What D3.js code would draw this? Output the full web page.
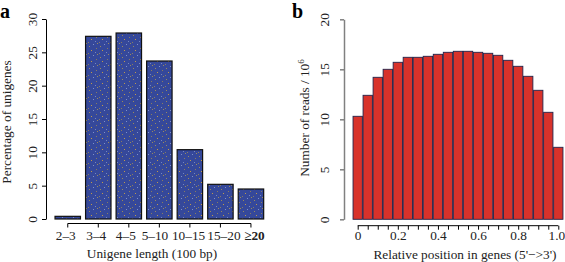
<!DOCTYPE html>
<html>
<head>
<meta charset="utf-8">
<script src="https://cdn.jsdelivr.net/npm/d3@7"></script>
<style>
  body { margin: 0; background: #fff; }
  svg { display: block; font-family: "Liberation Serif", "DejaVu Serif", serif; }
</style>
</head>
<body>
<svg id="chart" width="565" height="262"></svg>
<script>
// Panel a: unigene length distribution
const lengthCats = ["2–3", "3–4", "4–5", "5–10", "10–15", "15–20", "≥20"];
const lengthPct = [0.4, 27.4, 27.9, 23.7, 10.4, 5.2, 4.5];
const pctTicks = [0, 5, 10, 15, 20, 25, 30];

// Panel b: read coverage along gene body
const positions = [0, 0.05, 0.1, 0.15, 0.2, 0.25, 0.3, 0.35, 0.4, 0.45, 0.5,
                   0.55, 0.6, 0.65, 0.7, 0.75, 0.8, 0.85, 0.9, 0.95, 1.0];
const reads = [10.3, 12.4, 14.2, 15.0, 15.7, 16.2, 16.2, 16.3, 16.5, 16.7, 16.8,
               16.8, 16.7, 16.6, 16.4, 15.9, 15.3, 14.3, 12.9, 10.7, 7.2];
const readTicks = [0, 5, 10, 15, 20];
const posLabels = [0, 0.2, 0.4, 0.6, 0.8, 1.0];

const fs = 13.3;
// small horizontal nudges so the category labels don't collide (as in the original)
const labelNudge = [-2, -2, -3, -4.4, -1.3, 3.5, 3.5];

const svg = d3.select("#chart");

// speckled texture for the blue bars
const defs = svg.append("defs");
const pat = defs.append("pattern")
    .attr("id", "speckle")
    .attr("patternUnits", "userSpaceOnUse")
    .attr("width", 11).attr("height", 11);
pat.append("rect").attr("width", 11).attr("height", 11).attr("fill", "#35489a");
const dots = [[1, 2, "#9a8a5c"], [5, 0, "#7f90c8"], [8, 4, "#8a7d60"],
              [3, 6, "#c09a4a"], [7, 8, "#7486c0"], [0, 9, "#8a7d60"], [9, 10, "#9a8a5c"]];
dots.forEach(d => pat.append("rect")
    .attr("x", d[0]).attr("y", d[1]).attr("width", 1).attr("height", 1).attr("fill", d[2]));

// ---------- panel a ----------
const xA = d3.scaleBand()
    .domain(lengthCats)
    .range([52.5, 266.2])
    .paddingInner(0.167)
    .paddingOuter(0.083);

const yA = d3.scaleLinear().domain([0, 30]).range([219, 19]);

svg.append("g").selectAll("rect")
    .data(lengthCats)
    .enter()
    .append("rect")
    .attr("x", d => xA(d))
    .attr("y", (d, i) => yA(lengthPct[i]))
    .attr("width", xA.bandwidth())
    .attr("height", (d, i) => yA(0) - yA(lengthPct[i]))
    .attr("fill", "url(#speckle)")
    .attr("stroke", "#111")
    .attr("stroke-width", 1.2);

// y axis a
const yAxisA = svg.append("g")
    .attr("transform", "translate(46,0)")
    .call(d3.axisLeft(yA).tickValues(pctTicks).tickSize(4).tickSizeOuter(0));
yAxisA.selectAll("text")
    .attr("transform", "rotate(-90)")
    .attr("x", 0).attr("y", -9.5).attr("dy", 0)
    .attr("text-anchor", "middle");

// x axis a
const xAxisA = svg.append("g")
    .attr("transform", "translate(0,223.5)")
    .call(d3.axisBottom(xA).tickSize(4).tickSizeOuter(0));
xAxisA.select(".domain").remove();
xAxisA.append("line")
    .attr("x1", xA(lengthCats[0]) + xA.bandwidth() / 2)
    .attr("x2", xA(lengthCats[lengthCats.length - 1]) + xA.bandwidth() / 2)
    .attr("stroke", "#000");
xAxisA.selectAll("text").attr("y", 7).attr("dy", "0.71em")
    .attr("x", (d, i) => labelNudge[i])
    .attr("font-weight", d => d === "≥20" ? "bold" : null);

[yAxisA, xAxisA].forEach(g => {
    g.attr("font-family", null).attr("font-size", fs);
    g.selectAll("text").attr("fill", "#222");
    g.selectAll("line").attr("stroke", "#000");
});

svg.append("text")
    .attr("x", 152).attr("y", 258)
    .attr("text-anchor", "middle").attr("font-size", fs).attr("fill", "#222")
    .text("Unigene length (100 bp)");

svg.append("text")
    .attr("transform", "translate(11,122) rotate(-90)")
    .attr("text-anchor", "middle").attr("font-size", fs).attr("fill", "#222")
    .text("Percentage of unigenes");

svg.append("text")
    .attr("x", 0).attr("y", 18)
    .attr("font-size", 20).attr("font-weight", "bold")
    .text("a");

// ---------- panel b ----------
const xB = d3.scaleLinear().domain([0, 1]).range([357.7, 558.3]);
const yB = d3.scaleLinear().domain([0, 20]).range([219.3, 19.3]);
const bw = (xB(0.05) - xB(0)) * 0.93;

svg.append("g").selectAll("rect")
    .data(positions)
    .enter()
    .append("rect")
    .attr("x", d => xB(d) - bw / 2)
    .attr("y", (d, i) => yB(reads[i]))
    .attr("width", bw)
    .attr("height", (d, i) => yB(0) - yB(reads[i]))
    .attr("fill", "#d8322b")
    .attr("stroke", "#23234a")
    .attr("stroke-width", 0.9);

const yAxisB = svg.append("g")
    .attr("transform", "translate(344,0)")
    .call(d3.axisLeft(yB).tickValues(readTicks).tickSize(4).tickSizeOuter(0));
yAxisB.selectAll("text")
    .attr("transform", "rotate(-90)")
    .attr("x", 0).attr("y", -15).attr("dy", 0)
    .attr("text-anchor", "middle");
yAxisB.select(".domain").attr("stroke", "#808080").attr("stroke-width", 1.5);
yAxisB.selectAll("line").attr("stroke", "#808080").attr("stroke-width", 1.5);

const xAxisB = svg.append("g")
    .attr("transform", "translate(0,225.7)")
    .call(d3.axisBottom(xB).tickValues(positions).tickSize(4).tickSizeOuter(0)
        .tickFormat(d => {
            const hit = posLabels.find(p => Math.abs(p - d) < 1e-9);
            if (hit === undefined) return "";
            return hit === 0 ? "0" : hit.toFixed(1);
        }));
xAxisB.select(".domain").remove();
xAxisB.append("line")
    .attr("x1", xB(0)).attr("x2", xB(1)).attr("stroke", "#000");
xAxisB.selectAll("line").attr("stroke", "#000");
xAxisB.selectAll("text").attr("y", 5).attr("dy", "0.71em");
// keep the last label inside the frame
xAxisB.selectAll("text").filter(d => d === 1).attr("x", -2);

[yAxisB, xAxisB].forEach(g => {
    g.attr("font-family", null).attr("font-size", fs);
    g.selectAll("text").attr("fill", "#222");
});

svg.append("text")
    .attr("x", 465).attr("y", 259)
    .attr("text-anchor", "middle").attr("font-size", fs).attr("fill", "#222")
    .text("Relative position in genes (5'−>3')");

const yTitleB = svg.append("text")
    .attr("transform", "translate(309,118) rotate(-90)")
    .attr("text-anchor", "middle").attr("font-size", fs).attr("fill", "#222");
yTitleB.append("tspan").text("Number of reads / 10");
yTitleB.append("tspan").attr("font-size", 9).attr("dy", -5).text("6");

svg.append("text")
    .attr("x", 292).attr("y", 18)
    .attr("font-size", 20).attr("font-weight", "bold")
    .text("b");
</script>
</body>
</html>
